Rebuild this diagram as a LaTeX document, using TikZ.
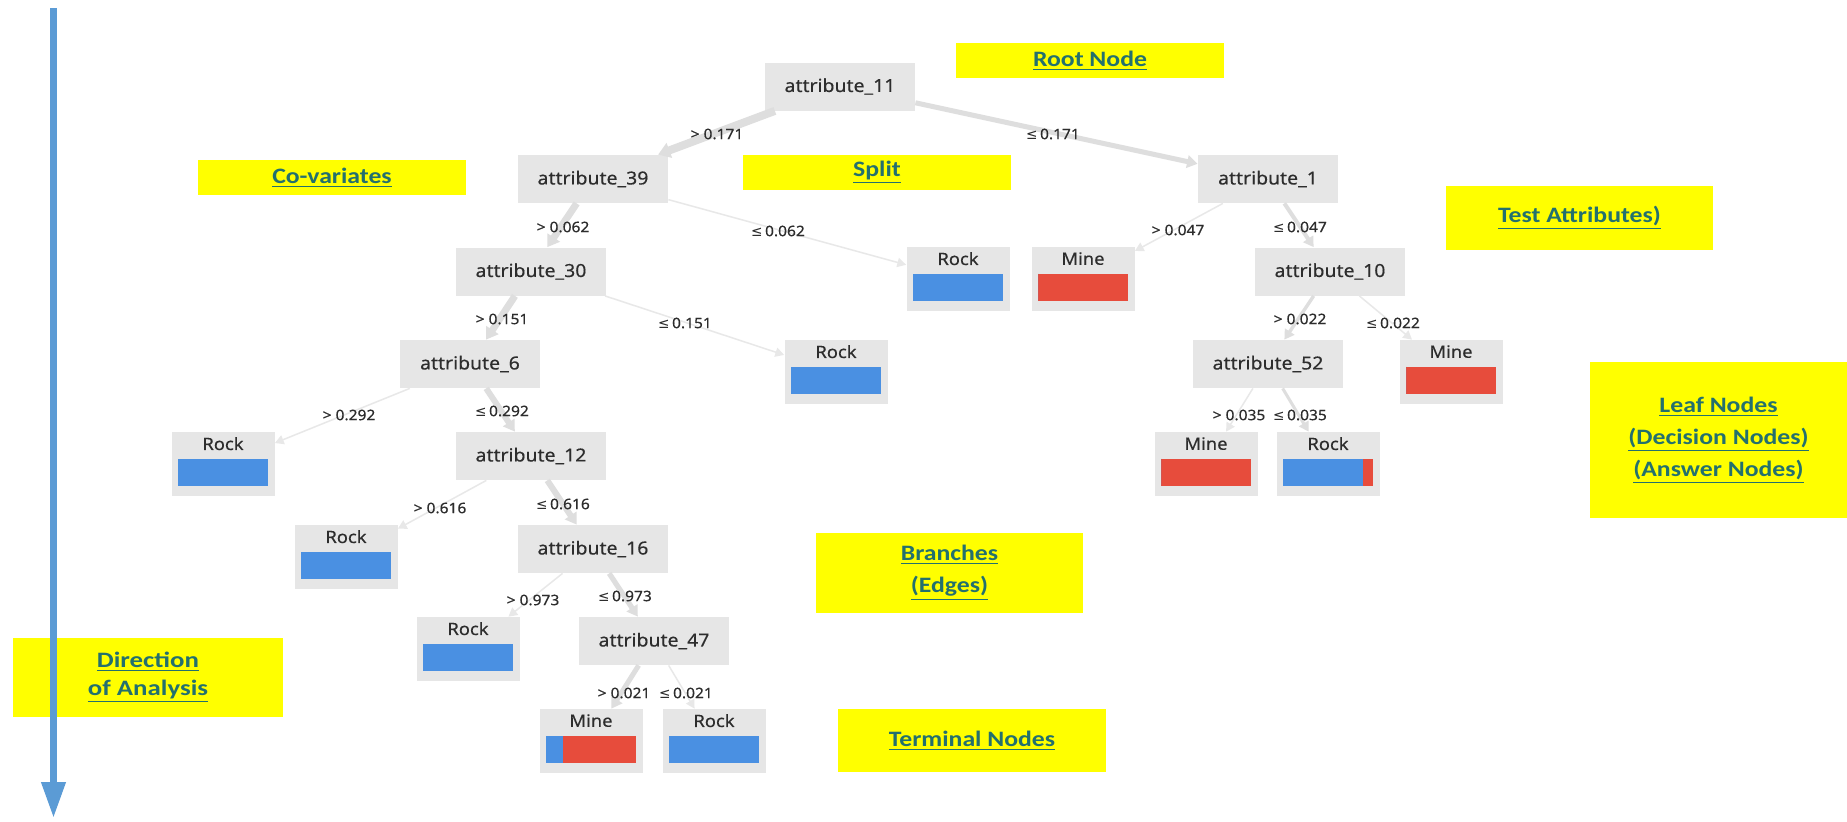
\documentclass[tikz,border=0pt]{standalone}
\usepackage{fontspec}
\usetikzlibrary{arrows.meta,calc}

\newfontfamily\treefont[FakeStretch=1.08,FakeBold=0.35]{Noto Sans}
\newfontfamily\symfont[FakeStretch=0.95]{DejaVu Sans}
\newfontfamily\notefont[FakeStretch=1.17]{Carlito}
\newfontfamily\dirfont[FakeStretch=1.22]{Carlito}
\newcommand{\uptoq}{{\symfont ≤}}

\definecolor{boxgrey}{RGB}{230,230,230}
\definecolor{edgegrey}{RGB}{222,222,222}
\definecolor{thingrey}{RGB}{232,232,232}
\definecolor{rockblue}{RGB}{74,144,226}
\definecolor{minered}{RGB}{231,76,60}
\definecolor{noteyellow}{RGB}{255,255,0}
\definecolor{noteink}{RGB}{35,112,110}
\definecolor{flowblue}{RGB}{91,155,213}
\definecolor{inkgrey}{RGB}{45,45,45}

\tikzset{
  attr/.style={fill=boxgrey, minimum width=75pt, minimum height=24pt, inner sep=0pt,
    font=\treefont\fontsize{9}{11}\selectfont, text=inkgrey},
  attrs/.style={attr, minimum width=70pt},
  leafbox/.style={fill=boxgrey, minimum width=51.5pt, minimum height=32pt, inner sep=0pt},
  leaftext/.style={font=\treefont\fontsize{8.5}{10}\selectfont, text=inkgrey, inner sep=0pt},
  cut/.style={font=\treefont\fontsize{7.2}{9}\selectfont, text=inkgrey, inner sep=0pt},
  note/.style={fill=noteyellow, inner sep=0pt, align=center, text=noteink,
    font=\notefont\bfseries\fontsize{11}{16}\selectfont},
  edge/.style={draw=edgegrey, -{Triangle[width=4pt 0.9, length=4pt 0.5]}},
  faint/.style={edge, draw=thingrey, line width=0.75pt},
  flow/.style={draw=flowblue, line width=3.5pt, -{Triangle[width=11.5pt, length=18pt]}}
}

% leaf: name, x, y, class text, share of the bar that is blue
\newcommand{\leafnode}[5]{%
  \node[leafbox] (#1) at (#2,#3) {};
  \node[leaftext] (#1-t) at ([yshift=-6pt]#1.north) {#4};
  \coordinate (#1-bl) at ($(#1.north west)+(7,27)$);
  \coordinate (#1-br) at ($(#1.north east)+(-7,54)$);
  \fill[minered] (#1-bl) rectangle (#1-br);
  \fill[rockblue] (#1-bl) rectangle ($(#1-bl |- #1-br)!#5!(#1-br)$);
}

\begin{document}
\begin{tikzpicture}[x=0.5pt,y=-0.5pt]
\useasboundingbox (0,0) rectangle (1847,821);
\fill[white] (0,0) rectangle (1847,821);

% annotation boxes
\node[note, minimum width=134pt, minimum height=17.5pt] (nroot) at (1090,60.5) {\underline{Root Node}};
\node[note, minimum width=134pt, minimum height=17.5pt] (nsplit) at (877,172.5) {\underline{Split}};
\node[note, minimum width=134pt, minimum height=17.5pt] (ncov) at (332,177.5) {\underline{Co-variates}};
\node[note, minimum width=133.5pt, minimum height=32pt] (ntest) at (1579.5,218) {\underline{Test Attributes)}};
\node[note, minimum width=128.5pt, minimum height=78pt] (nleaf) at (1718.5,440)
  {\underline{Leaf Nodes}\\\underline{(Decision Nodes)}\\\underline{(Answer Nodes)}};
\node[note, minimum width=133.5pt, minimum height=40pt] (nbranch) at (949.5,573)
  {\underline{Branches}\\\underline{(Edges)}};
\node[note, minimum width=134pt, minimum height=31.5pt] (nterm) at (972,740.5) {\underline{Terminal Nodes}};
\node[note, minimum width=135pt, minimum height=39.5pt,
  font=\dirfont\bfseries\fontsize{11}{14}\selectfont] (ndir) at (148,677.5)
  {\underline{Direction}\\\underline{of Analysis}};

% direction of analysis arrow
\coordinate (flowtop) at (53.5,8);
\coordinate (flowend) at (53.5,818);
\draw[flow] (flowtop) -- (flowend);

% decision nodes
\node[attr]  (a11) at (840,86.5) {attribute\_11};
\node[attr]  (a39) at (593,179) {attribute\_39};
\node[attrs] (a1)  at (1268,179) {attribute\_1};
\node[attr]  (a30) at (531,271.5) {attribute\_30};
\node[attr]  (a10) at (1330,271.5) {attribute\_10};
\node[attrs] (a6)  at (470,364) {attribute\_6};
\node[attr]  (a52) at (1268,364) {attribute\_52};
\node[attr]  (a12) at (531,456) {attribute\_12};
\node[attr]  (a16) at (593,549) {attribute\_16};
\node[attr]  (a47) at (654,641) {attribute\_47};

% leaves
\leafnode{r39}{958}{279}{Rock}{1}
\leafnode{m1}{1083}{279}{Mine}{0}
\leafnode{r30}{836}{372}{Rock}{1}
\leafnode{m10}{1451}{372}{Mine}{0}
\leafnode{r6}{223}{464}{Rock}{1}
\leafnode{m52}{1206}{464}{Mine}{0}
\leafnode{r52}{1328}{464}{Rock}{0.89}
\leafnode{r12}{346}{557}{Rock}{1}
\leafnode{r16}{468}{649}{Rock}{1}
\leafnode{m47}{591}{741}{Mine}{0.19}
\leafnode{r47}{714}{741}{Rock}{1}

% branches
\draw[edge, line width=4pt]   (a11) -- (a39);
\draw[edge, line width=2.5pt] (a11) -- (a1);
\draw[edge, line width=3.5pt] (a39) -- (a30);
\draw[faint] (a39) -- (r39);
\draw[edge, line width=3.5pt] (a30) -- (a6);
\draw[faint] (a30) -- (r30);
\draw[faint] (a6) -- (r6);
\draw[edge, line width=3pt]   (a6) -- (a12);
\draw[faint] (a12) -- (r12);
\draw[edge, line width=3pt]   (a12) -- (a16);
\draw[faint] (a16) -- (r16);
\draw[edge, line width=2.6pt] (a16) -- (a47);
\draw[edge, line width=2.5pt] (a47) -- (m47);
\draw[faint] (a47) -- (r47);
\draw[faint] (a1) -- (m1);
\draw[edge, line width=2pt]   (a1) -- (a10);
\draw[edge, line width=1.7pt] (a10) -- (a52);
\draw[faint] (a10) -- (m10);
\draw[faint] (a52) -- (m52);
\draw[edge, line width=1.5pt] (a52) -- (r52);

% split thresholds
\node[cut] (c11l) at (717,134) {> 0.171};
\node[cut] (c11r) at (1053,134) {\uptoq\,0.171};
\node[cut] (c39l) at (563,227) {> 0.062};
\node[cut] (c39r) at (778,231) {\uptoq\,0.062};
\node[cut] (c30l) at (502,319) {> 0.151};
\node[cut] (c30r) at (685,323) {\uptoq\,0.151};
\node[cut] (c6l)  at (349,415) {> 0.292};
\node[cut] (c6r)  at (502,411) {\uptoq\,0.292};
\node[cut] (c12l) at (440,508) {> 0.616};
\node[cut] (c12r) at (563,504) {\uptoq\,0.616};
\node[cut] (c16l) at (533,600) {> 0.973};
\node[cut] (c16r) at (625,596) {\uptoq\,0.973};
\node[cut] (c47l) at (624,693) {> 0.021};
\node[cut] (c47r) at (686,693) {\uptoq\,0.021};
\node[cut] (c1l)  at (1178,230) {> 0.047};
\node[cut] (c1r)  at (1300,227) {\uptoq\,0.047};
\node[cut] (c10l) at (1300,319) {> 0.022};
\node[cut] (c10r) at (1393,323) {\uptoq\,0.022};
\node[cut] (c52l) at (1239,415) {> 0.035};
\node[cut] (c52r) at (1300,415) {\uptoq\,0.035};
\end{tikzpicture}
\end{document}
